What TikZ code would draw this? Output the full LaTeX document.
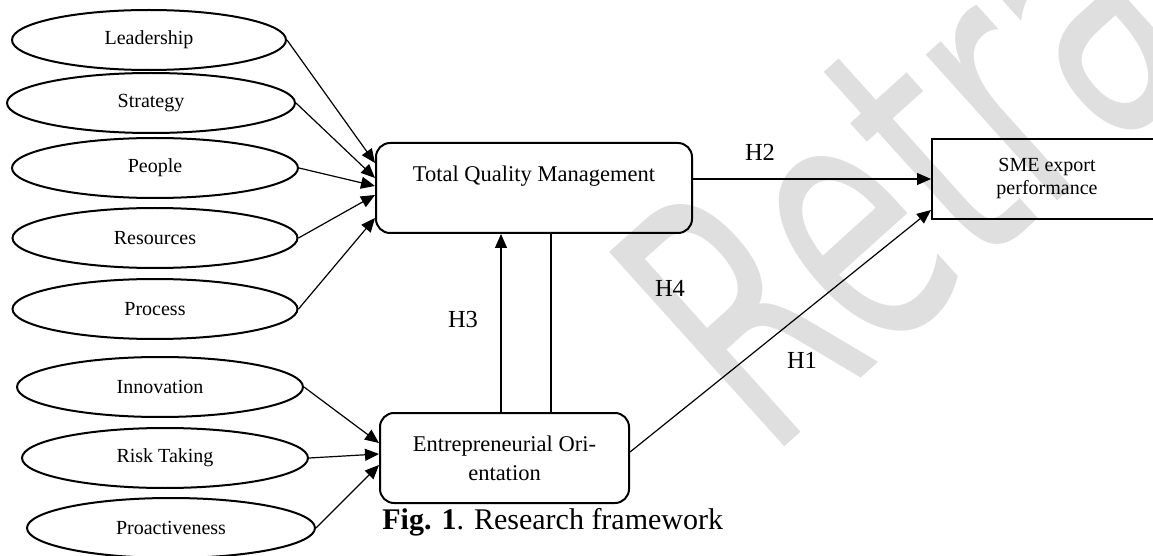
\documentclass[tikz,border=0pt]{standalone}
\usepackage{fontspec}
\setmainfont{Liberation Serif}
\newfontfamily\stampfont{DejaVu Sans}
\usepackage{tikz}
\usetikzlibrary{arrows.meta}
\usetikzlibrary{shapes.geometric, positioning}

\begin{document}
\begin{tikzpicture}[-,x=0.5pt,y=-0.5pt,
                    factor node/.style={ellipse,draw,line width=1pt,inner sep=0pt,minimum height=30pt,font=\fontsize{10}{12}\selectfont},
                    box node/.style={rectangle,rounded corners=7pt,draw,line width=1pt,inner sep=0pt,align=center,font=\fontsize{11.25}{14.5}\selectfont},
                    hyp node/.style={inner sep=0pt,font=\fontsize{12.25}{14}\selectfont},
                    link/.style={line width=0.6pt},
                    arrow/.style={link,-{Triangle[length=7pt,width=6pt]}}]

  \useasboundingbox (0,0) rectangle (1153,556);
  \clip (0,0) rectangle (1153,556);

  \node[text=gray!25,anchor=base west,rotate=42,xscale=0.62,inner sep=0pt,
        font=\stampfont\fontsize{179.5}{180}\selectfont] (stamp) at (768,462) {Retracted};

  \node[factor node,minimum width=137pt] (1) at (149,40) {Leadership};
  \node[factor node,minimum width=144pt] (2) at (151,103) {Strategy};
  \node[factor node,minimum width=143pt] (3) at (155,168) {People};
  \node[factor node,minimum width=142.5pt] (4) at (155,238) {Resources};
  \node[factor node,minimum width=142.5pt] (5) at (155,309) {Process};
  \node[factor node,minimum width=143pt] (6) at (160,387) {Innovation};
  \node[factor node,minimum width=143pt] (7) at (165,458) {Risk Taking};
  \node[factor node,minimum width=144pt] (8) at (171,528) {Proactiveness};

  \node[box node,minimum width=158pt,text height=19.5pt,text depth=25.5pt] (9) at (534,188) {Total Quality Management};
  \node[box node,minimum width=124.5pt,minimum height=45pt] (10) at (504.5,458) {Entrepreneurial Ori-\\entation};
  \node[rectangle,draw,line width=1pt,minimum width=115pt,minimum height=40pt,align=center,
        font=\fontsize{10}{11.5}\selectfont] (11) at (1047,179) {SME export\\performance};

  \path[arrow]
    (1.east) edge ([yshift=12.5pt]9.west)
    (2.east) edge ([yshift=5pt]9.west)
    (3.east) edge ([yshift=1pt]9.west)
    (4.east) edge ([yshift=-3.5pt]9.west)
    (5.east) edge ([yshift=-15pt]9.west)
    (6.east) edge ([yshift=7.5pt]10.west)
    (7.east) edge ([yshift=2pt]10.west)
    (8.east) edge ([yshift=-3.5pt]10.west)
    (9.east |- 11.west) edge (11.west)
    ([xshift=-1.75pt]10.north) edge ([xshift=-1.75pt]10.north |- 9.south)
    ([yshift=3pt]10.east) edge ([yshift=-15.5pt]11.west);
  \draw[link] ([xshift=8.5pt]9.south) -- ([xshift=8.5pt]9.south |- 10.north);

  \node[hyp node] (h1) at (802,360) {H1};
  \node[hyp node] (h2) at (760,152) {H2};
  \node[hyp node] (h3) at (463,320) {H3};
  \node[hyp node] (h4) at (670,288) {H4};

  \node[anchor=west,inner sep=0pt,font=\fontsize{15}{18}\selectfont] (caption) at (382,522) {\textbf{Fig. 1}. Research framework};

\end{tikzpicture}
\end{document}
